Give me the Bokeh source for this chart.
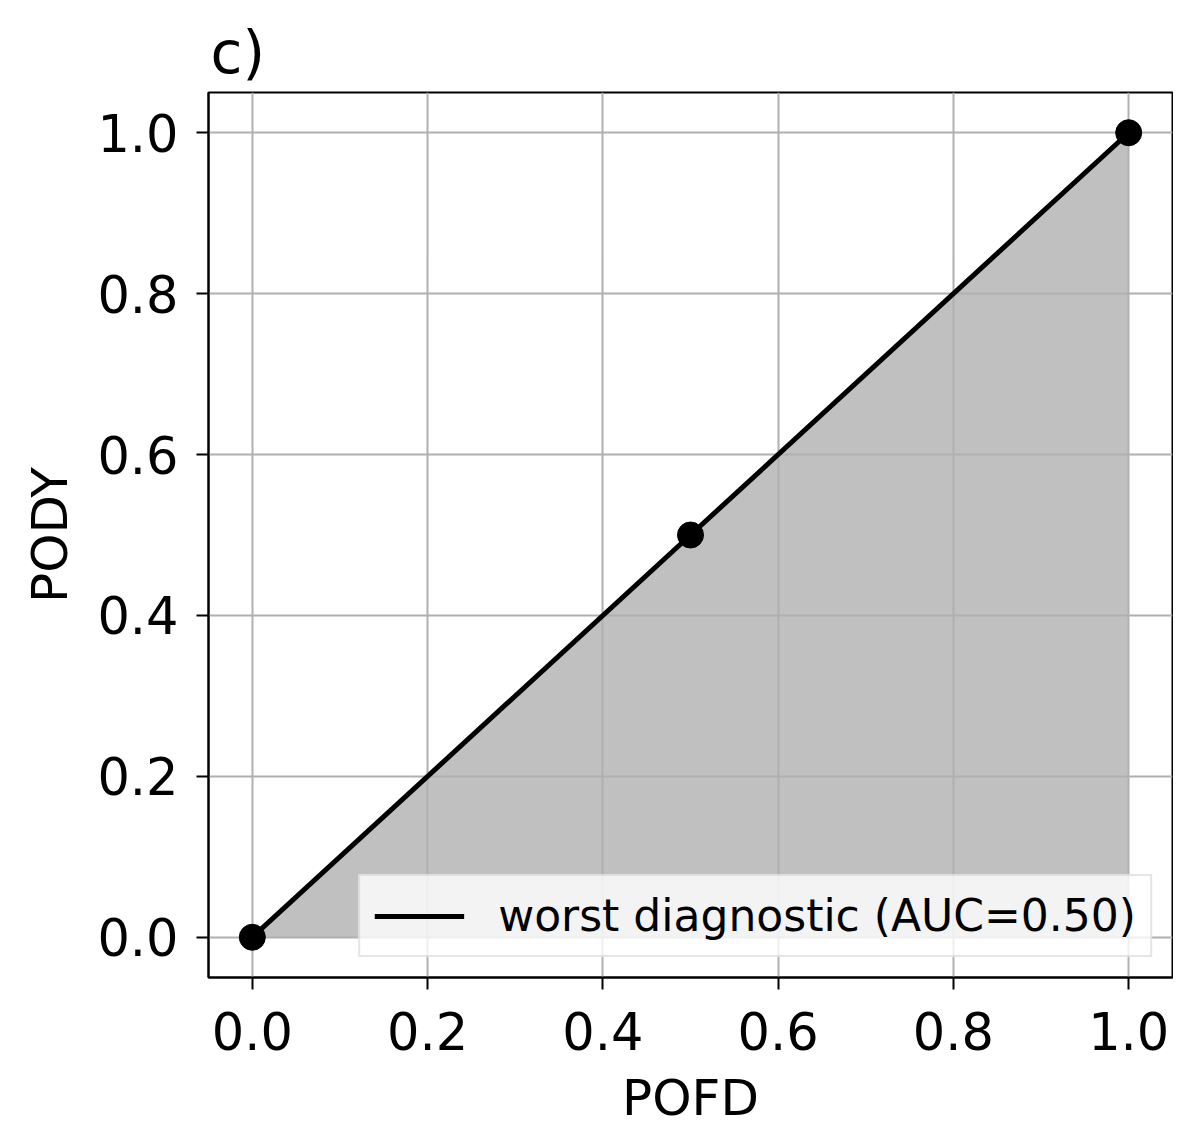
from bokeh.plotting import figure
from bokeh.models import Range1d, FixedTicker, Legend, LegendItem, Title
from bokeh.embed import file_html
from bokeh.resources import INLINE

pofd = [0.0, 0.5, 1.0]
pody = [0.0, 0.5, 1.0]
baseline = [0.0, 0.0, 0.0]
ticks = [0.0, 0.2, 0.4, 0.6, 0.8, 1.0]
legend_label = "worst diagnostic (AUC=0.50)"
x_title = "POFD"
y_title = "PODY"

FONT = "DejaVu Sans"

p = figure(width=1173, height=1129, output_backend="svg", toolbar_location=None,
           x_range=Range1d(-0.05, 1.05), y_range=Range1d(-0.05, 1.05),
           min_border_left=208, min_border_right=1, min_border_top=92, min_border_bottom=149)
p.title = Title(text="c)", align="left", text_font=FONT, text_font_size="58px",
                text_font_style="normal", text_color="black", standoff=12, offset=2)

p.outline_line_color = "black"
p.outline_line_width = 2
p.background_fill_color = "white"
p.border_fill_color = "white"

for ax in (p.xaxis[0], p.yaxis[0]):
    ax.ticker = FixedTicker(ticks=ticks)
    ax.minor_tick_line_color = None
    ax.major_tick_out = 12
    ax.major_tick_in = 0
    ax.major_tick_line_width = 2
    ax.major_tick_line_color = "black"
    ax.axis_line_color = "black"
    ax.axis_line_width = 2
    ax.major_label_text_font = FONT
    ax.major_label_text_font_size = "51px"
    ax.major_label_text_color = "black"
    ax.major_label_standoff = 18
    ax.axis_label_text_font = FONT
    ax.axis_label_text_font_size = "50px"
    ax.axis_label_text_font_style = "normal"
    ax.axis_label_text_color = "black"
    ax.major_label_overrides = {t: f"{t:.1f}" for t in ticks}

p.xaxis.major_label_standoff = 22
p.xaxis.axis_label = x_title
p.xaxis.axis_label_standoff = 16
p.yaxis.axis_label = y_title
p.yaxis.axis_label_standoff = 15

p.grid.grid_line_color = "#b0b0b0"
p.grid.grid_line_width = 2
p.grid.ticker = FixedTicker(ticks=ticks)

area = p.varea(x=pofd, y1=baseline, y2=pody, fill_color="#c0c0c0", level="image")
line = p.line(pofd, pody, line_color="black", line_width=5)
p.scatter(pofd, pody, size=26, fill_color="black", line_color="black")

legend = Legend(items=[LegendItem(label=legend_label, renderers=[line])],
                location="bottom_right", margin=20, padding=14, glyph_width=90,
                glyph_height=40, label_standoff=34, label_text_font=FONT,
                label_text_font_size="44px", label_text_color="black",
                border_line_color="#cccccc", border_line_width=2,
                background_fill_color="white", background_fill_alpha=0.8)
p.add_layout(legend)

open("out.html", "w").write(file_html(p, INLINE))
